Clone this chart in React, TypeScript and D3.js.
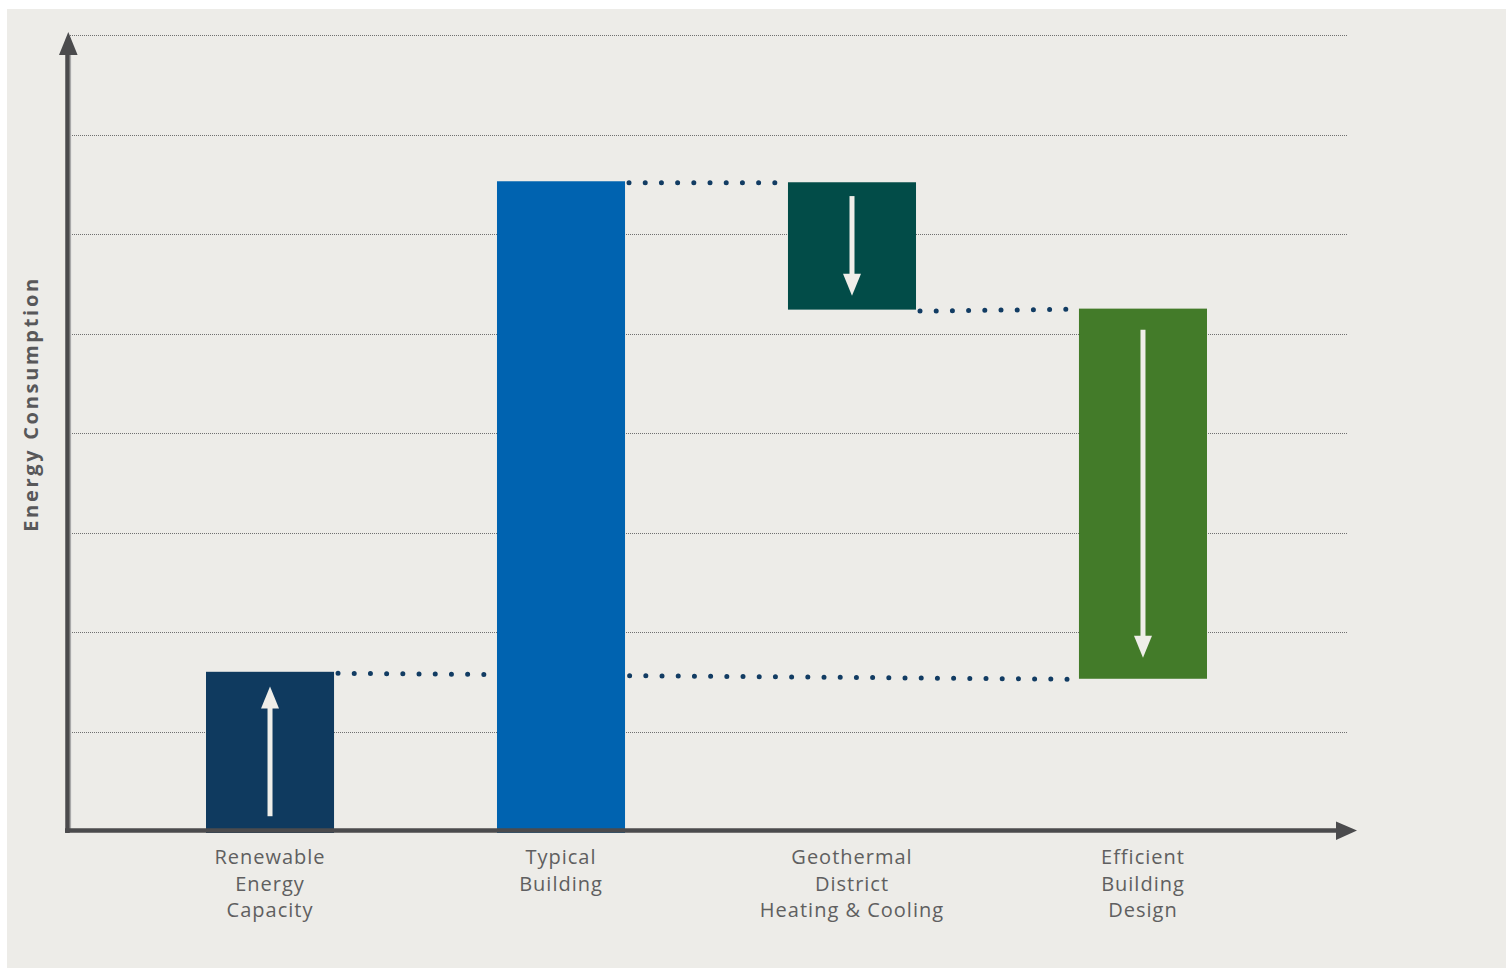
import React from "react";
import * as d3 from "d3";

const categories: string[][] = [
  ["Renewable", "Energy", "Capacity"],
  ["Typical", "Building"],
  ["Geothermal", "District", "Heating & Cooling"],
  ["Efficient", "Building", "Design"],
];
const startValues = [0, 0, 6.52, 5.25];
const endValues = [1.6, 6.53, 5.24, 1.53];
const barColors = ["#0f3a5f", "#0063b0", "#024c48", "#437b29"];
const showArrow = [true, false, true, true];
// connectors: [fromBar, fromValueKind, toBar, toValueKind]
const connectors: [number, "end" | "start", number, "end" | "start"][] = [
  [0, "end", 3, "end"],
  [1, "end", 2, "start"],
  [2, "end", 3, "start"],
];
const gridValues = [1, 2, 3, 4, 5, 6, 7, 8];
const yAxisTitle = "Energy Consumption";

const W = 1506;
const H = 968;

export default function App() {
  const x = d3
    .scaleBand<number>()
    .domain(categories.map((_, i) => i))
    .range([206, 1207])
    .paddingInner(0.56)
    .paddingOuter(0);
  const y = d3.scaleLinear().domain([0, 8]).range([831, 35]);
  const bw = x.bandwidth();
  const val = (i: number, k: "end" | "start") =>
    k === "end" ? endValues[i] : startValues[i];

  const axisColor = "#4b4b4d";
  const arrowColor = "#efeee9";

  return (
    <svg
      width={W}
      height={H}
      style={{ position: "fixed", left: 0, top: 0, display: "block" }}
    >
      <rect x={0} y={0} width={W} height={H} fill="#ffffff" />
      <rect x={7} y={9} width={W - 7} height={H - 9} fill="#edece8" />

      {/* gridlines */}
      {gridValues.map((g) => (
        <line
          key={g}
          x1={70}
          x2={1348}
          y1={Math.round(y(g)) + 0.5}
          y2={Math.round(y(g)) + 0.5}
          stroke="#707070"
          strokeWidth={1}
          strokeDasharray="1 1"
        />
      ))}

      {/* connectors */}
      {connectors.map(([a, ka, b, kb], i) => (
        <line
          key={i}
          x1={(x(a) as number) + bw + 4}
          x2={(x(b) as number) - 3}
          y1={y(val(a, ka)) + 1.5}
          y2={y(val(b, kb)) + 0.5}
          stroke="#123c63"
          strokeWidth={5}
          strokeLinecap="round"
          strokeDasharray="0 16.2"
        />
      ))}

      {/* bars */}
      {categories.map((_, i) => {
        const y0 = y(startValues[i]);
        const y1 = y(endValues[i]);
        const top = Math.min(y0, y1);
        const h = Math.abs(y1 - y0) + (startValues[i] === 0 ? 2 : 0);
        return (
          <rect
            key={i}
            x={x(i)}
            y={top}
            width={bw}
            height={h}
            fill={barColors[i]}
          />
        );
      })}

      {/* arrows inside bars */}
      {categories.map((_, i) => {
        if (!showArrow[i]) return null;
        const y0 = y(startValues[i]);
        const y1 = y(endValues[i]);
        const h = Math.abs(y1 - y0);
        const inset = 10 + h * 0.03;
        const dir = y1 < y0 ? -1 : 1; // screen direction from start to end
        const cx = (x(i) as number) + bw / 2;
        const tail = y0 + dir * inset;
        const tip = y1 - dir * inset;
        const headLen = 22;
        const headHalf = 9;
        const base = tip - dir * headLen;
        return (
          <g key={i}>
            <line
              x1={cx}
              x2={cx}
              y1={tail}
              y2={base + dir * 2}
              stroke={arrowColor}
              strokeWidth={5}
            />
            <path
              d={`M${cx},${tip} L${cx - headHalf},${base} L${cx + headHalf},${base} Z`}
              fill={arrowColor}
            />
          </g>
        );
      })}

      {/* y axis */}
      <line x1={70.5} x2={70.5} y1={52} y2={829} stroke="#a9a9a9" strokeWidth={1.2} />
      <line x1={67.5} x2={67.5} y1={833} y2={50} stroke={axisColor} strokeWidth={4.5} />
      <path d="M68.3,32 L59,55 L77.6,55 Z" fill={axisColor} />

      {/* x axis */}
      <line x1={65} x2={1340} y1={830.5} y2={830.5} stroke={axisColor} strokeWidth={4.5} />
      <path d="M1357,830.5 L1336,821.5 L1336,840 Z" fill={axisColor} />

      {/* y axis title */}
      <text
        transform={`translate(38,404) rotate(-90)`}
        textAnchor="middle"
        fontFamily="'Open Sans', sans-serif"
        fontWeight={700}
        fontSize={20}
        letterSpacing={2.7}
        fill="#58585a"
      >
        {yAxisTitle}
      </text>

      {/* category labels */}
      {categories.map((lines, i) => (
        <text
          key={i}
          textAnchor="middle"
          fontFamily="'Open Sans', sans-serif"
          fontSize={20}
          letterSpacing={1}
          fill="#5f5f60"
        >
          {lines.map((l, j) => (
            <tspan key={j} x={(x(i) as number) + bw / 2} y={864 + j * 26.5}>
              {l}
            </tspan>
          ))}
        </text>
      ))}
    </svg>
  );
}
